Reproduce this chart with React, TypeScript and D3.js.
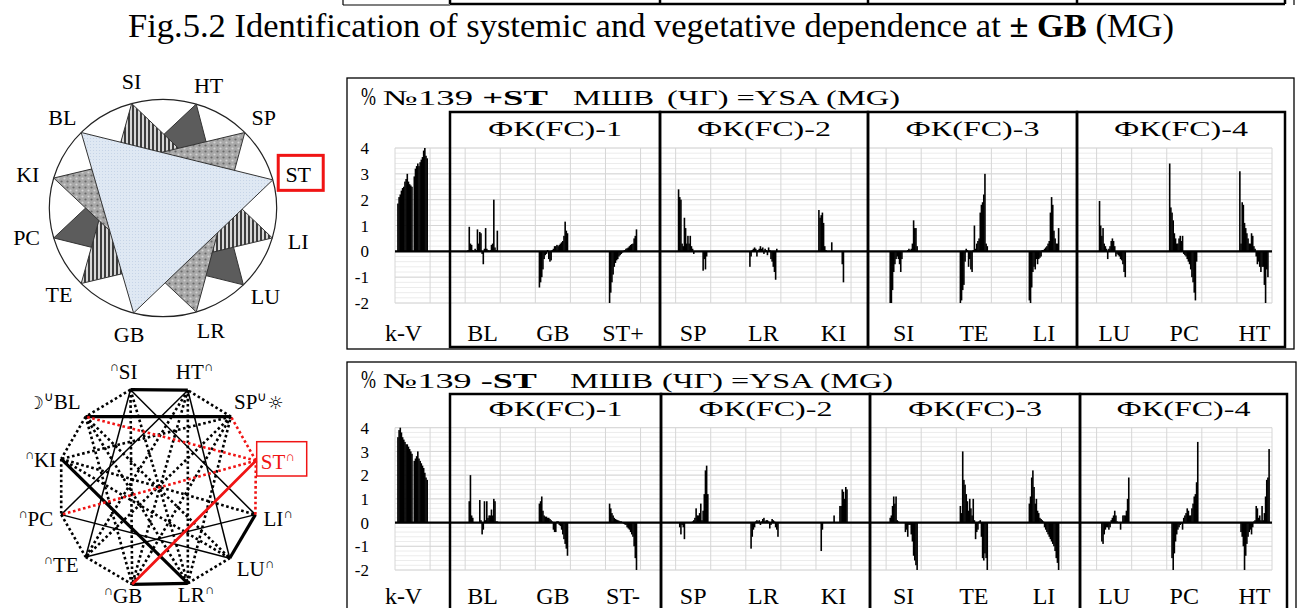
import React from "react";
import * as d3 from "d3";

const W = 1300;
const H = 608;
const FONT = "'Liberation Serif', 'Times New Roman', serif";

// ---------- bar chart data ----------
const plusCategories = ["k-V", "BL", "GB", "ST+", "SP", "LR", "KI", "SI", "TE", "LI", "LU", "PC", "HT"];
const minusCategories = ["k-V", "BL", "GB", "ST-", "SP", "LR", "KI", "SI", "TE", "LI", "LU", "PC", "HT"];
const yTicks = [4, 3, 2, 1, 0, -1, -2];
const fcNames = ["ФК(FC)-1", "ФК(FC)-2", "ФК(FC)-3", "ФК(FC)-4"];

// +ST series, one array per group (27 readings each)
const plusKV = [0, 1.85, 2.1, 2.2, 2.35, 2.45, 2.5, 2.7, 2.8, 3.0, 2.7, 2.6, 2.55, 2.5, 0, 2.9, 3.2, 3.3, 3.4, 3.3, 3.45, 3.55, 3.65, 3.9, 4.0, 3.7, 3.6];
const plusBL = [0, 0.05, 0.95, 0.3, 0.25, 0.05, 0, 0.1, 0.05, 0.85, 0.3, 0.75, 0.7, -0.1, -0.5, 0.1, 0.9, 0.1, 0.05, 0, 0.05, 0.25, 0.3, 2.0, 0.15, 0.05, 0.8];
const plusGB = [0, 0, -1.4, -1.2, -1.0, -0.7, -0.3, -0.15, -0.1, 0.05, -0.3, -0.4, -0.35, 0.05, 0.1, 0.2, 0.2, 0.25, 0.2, 0.25, 0.3, 0.35, 0.4, 0.6, 1.15, 0.8, 0.7];
const plusST = [0, 0, -2.0, -1.6, -1.2, -0.9, -0.6, -0.45, -0.35, -0.3, -0.2, -0.15, -0.1, -0.05, 0.03, 0.05, 0.1, 0.12, 0.15, 0.2, 0.25, 0.28, 0.3, 0.5, 0.6, 0.85, 0];
const plusSP = [0, 2.4, 2.1, 2.0, 0.3, 0.2, 1.3, 0.9, 0.3, 0.6, 0.3, 0.6, 0.2, 0.1, -0.1, 0, 0, 0, 0, 0, 0, 0, -0.75, -0.3, -0.7, -0.2, 0];
const plusLR = [0, 0, -0.6, -0.2, 0.05, 0.1, 0.15, 0.1, -0.2, 0.05, 0.1, 0.2, 0.1, 0.15, -0.1, 0.1, 0.05, -0.15, 0.15, 0.05, -0.3, -0.4, -0.6, -0.8, -1.1, 0.1, 0];
const plusKI = [0, 1.6, 1.3, 1.4, 1.5, 1.1, 0.2, 0.05, 0, 0, 0, 0, 0.35, 0, 0, 0, 0, 0, 0, 0, 0, -0.5, -1.2, 0, 0, 0, 0];
const plusSI = [0, 0, -2.0, -2.0, -1.5, -0.8, -0.5, -0.3, -0.2, -0.3, -0.5, -0.8, -0.3, 0, 0, 0, 0, 0.05, 0.1, 0.05, 0.1, 0.3, 1.2, 0.9, 0.9, 0.2, 0];
const plusTE = [0, 0, -2.0, -1.9, -1.5, -1.3, -0.4, 0.1, 0.05, -0.6, -0.3, -0.7, -0.8, 0.05, 1.0, 0.1, 0.3, 0.4, 0.5, 1.5, 1.8, 1.9, 2.2, 3.0, 0.3, 0.2, 0];
const plusLI = [0, -1.9, -2.0, -1.4, -0.8, -0.6, -0.7, -0.3, -0.5, -0.3, -0.25, -0.2, 0.05, 0.05, 0.1, 0.15, 0.2, 0.3, 0.4, 1.5, 2.1, 1.8, 0.8, 0.5, 0.3, 0.3, 0.9];
const plusLU = [0, 1.95, 1.0, 0.6, 0.9, 0.3, 0.2, 0.1, -0.3, 0.1, 0.2, 0.4, 0.5, 0.4, 0.2, -0.2, -0.1, -0.15, -0.2, -0.3, -0.35, -0.5, -0.8, -1.0, 0, 0, 0];
const plusPC = [0, 3.4, 1.7, 1.5, 1.2, 0.7, 0.5, 0.3, 0.3, 0.5, 0.6, 0.4, 0.6, -0.1, -0.15, -0.2, -0.3, -0.4, -0.5, -0.7, -1.0, -1.2, -1.6, -1.9, -0.4, 0, 0];
const plusHT = [0, 3.1, 0.3, 1.9, 1.8, 1.1, 0.9, 0.7, 0.5, 0.3, 0.3, 0.7, 0.6, 0.2, 0.1, -0.2, -0.5, -0.4, -0.6, -0.8, -0.6, -0.6, -1.3, -2.0, -0.7, -1.0, 0];

// -ST series
const minusKV = [0, 3.6, 3.9, 4.0, 3.8, 3.6, 3.5, 3.4, 3.3, 3.3, 3.2, 3.1, 3.0, 2.9, 0, 2.6, 2.7, 2.8, 3.0, 2.7, 2.6, 2.5, 2.4, 2.3, 2.1, 1.9, 1.8];
const minusBL = [0, 0, 0.9, 2.0, 0.3, 0.2, 0, 0, 0, 0, 0, 0.95, 0.1, -0.5, -0.3, 0.9, 0.1, 0.9, 0.2, 0.3, 0.3, 0.55, 0.3, 1.0, 0.9, 0.05, 0.05];
const minusGB = [0, 0, 0.8, 0.9, 1.1, 0.5, 0.3, 0.25, 0.25, 0.2, 0.2, 0.15, 0.1, 0.05, -0.3, -0.4, -0.4, 0.05, 0.05, -0.1, -0.15, -0.3, -0.5, -0.7, -0.9, -1.1, -1.4];
const minusST = [0, 0, 0.8, 0.6, 0.4, 0.3, 0.2, 0.15, 0.12, 0.1, 0.08, 0.05, 0.05, 0.02, -0.05, -0.08, -0.1, -0.2, -0.25, -0.3, -0.4, -0.5, -0.6, -1.0, -1.5, -2.0, 0];
const minusSP = [0, 0, -0.2, -0.5, -0.1, -0.2, -0.7, 0, 0, 0, 0, 0, 0, 0.05, 0.1, 0.2, 0.6, 0.3, 0.3, 0.4, 0.8, 0.1, 0.5, 1.2, 2.2, 2.4, 1.2];
const minusLR = [0, 0, 0, -1.1, -0.6, -0.3, -0.2, 0.05, 0.1, 0.05, 0.1, -0.1, 0.05, 0.15, 0.2, 0.05, 0.1, 0.1, 0.05, -0.25, -0.1, 0.15, 0.1, 0.05, -0.2, -0.3, -0.6];
const minusKI = [0, 0, 0, -1.2, -0.3, 0, 0, 0, 0, 0, 0, 0, 0, 0, 0.3, 0, 0, 0, 0, 0.7, 0.7, 1.4, 1.3, 1.0, 1.5, 1.4, 0];
const minusSI = [0, 0, 0.2, 0.3, 0.7, 1.1, 0.8, 1.1, 0.1, 0.05, 0, 0, 0, 0, 0, -0.4, -0.3, -0.6, -0.1, -0.1, -0.5, -0.8, -1.4, -1.6, -1.8, -2.0, 0];
const minusTE = [0, 0, 0.7, 0.4, 3.0, 1.8, 1.6, 1.2, 0.9, 0.5, 1.0, 0.6, 0.3, 1.0, 0.1, -0.7, -0.4, -0.3, 0.05, 0.1, -0.6, -1.5, -1.6, -1.3, -1.5, -2.0, 0];
const minusLI = [0, 0.8, 1.1, 1.9, 2.2, 1.5, 0.8, 1.0, 0.5, 0.4, 0.2, 0.15, 0.1, 0.05, -0.2, -0.3, -0.4, -0.5, -0.6, -0.7, -0.8, -0.9, -1.0, -1.2, -1.5, -1.7, -2.0];
const minusLU = [0, 0, 0, -0.8, -0.9, -0.5, -0.3, -0.2, -0.2, -0.3, -0.2, 0.1, 0.2, 0.3, 0.5, 0.3, 0.05, 0, 0, -0.3, 0, 0.3, 0.3, 0.3, 0.5, 1.0, 1.9];
const minusPC = [0, 0, 0, -1.5, -2.0, -1.3, -0.8, -0.5, -0.3, -0.2, -0.1, -0.05, -0.3, 0.2, 0.3, 0.4, 0.6, 0.5, 0.3, 0.3, 0.6, 0.8, 1.1, 1.2, 1.7, 3.4, 0];
const minusHT = [0, 0, -0.4, -0.6, -1.0, -2.0, -1.4, -0.9, -0.6, -0.4, -0.3, -0.5, -0.2, 0.05, 0.1, 0.7, 0.6, 0.2, 0.3, 0.1, 0.7, 0.1, 0.4, 1.1, 1.8, 1.9, 3.1];

const plusSeries = [plusKV, plusBL, plusGB, plusST, plusSP, plusLR, plusKI, plusSI, plusTE, plusLI, plusLU, plusPC, plusHT];
const minusSeries = [minusKV, minusBL, minusGB, minusST, minusSP, minusLR, minusKI, minusSI, minusTE, minusLI, minusLU, minusPC, minusHT];

// ---------- meridian wheel / graph ----------
const meridians = ["ST", "SP", "HT", "SI", "BL", "KI", "PC", "TE", "GB", "LR", "LU", "LI"];
const nodeAngles = [15, 44, 73, 106, 136, 164, 196, 224, 255, 287, 315, 344];
const wheelLabelAngles = [15, 44, 71, 103, 136, 165, 193, 222, 256, 290, 317, 345];

const triads = [
  { nodes: [2, 6, 10], fill: "#5c5c5c" },
  { nodes: [3, 7, 11], fill: "url(#stripes)" },
  { nodes: [1, 5, 9], fill: "url(#speckle)" },
  { nodes: [4, 0, 8], fill: "url(#bluedots)" },
];

type EdgeStyle = "dot" | "rdot" | "thin" | "thick" | "red";
const graphEdges: [number, number, EdgeStyle][] = [
  // rim
  [0, 1, "rdot"], [1, 2, "dot"], [2, 3, "thick"], [3, 4, "dot"], [4, 5, "dot"], [5, 6, "dot"],
  [6, 7, "dot"], [7, 8, "dot"], [8, 9, "thick"], [9, 10, "dot"], [10, 11, "thick"], [11, 0, "rdot"],
  // diameters
  [0, 6, "rdot"], [1, 7, "dot"], [2, 8, "dot"], [3, 9, "dot"], [4, 10, "dot"], [5, 11, "dot"],
  // triads
  [0, 4, "rdot"], [4, 8, "dot"], [8, 0, "red"],
  [1, 5, "dot"], [5, 9, "thick"], [9, 1, "dot"],
  [2, 6, "thin"], [6, 10, "thin"], [10, 2, "thin"],
  [3, 7, "thin"], [7, 11, "thin"], [11, 3, "thin"],
  // a few long chords
  [3, 8, "dot"], [9, 2, "dot"], [4, 9, "dot"], [8, 1, "dot"], [5, 10, "dot"], [2, 7, "dot"],
  // BL - SP
  [1, 4, "thick"],
];

// symbol decorations of the graph labels
const graphLabelParts: { pre?: string; preSup?: string; sup?: string; post?: string }[] = [
  { sup: "∩" },            // ST
  { sup: "∪", post: "☼" }, // SP
  { sup: "∩" },            // HT
  { preSup: "∩" },         // SI
  { pre: "☽", preSup: "∪" }, // BL
  { preSup: "∩" },         // KI
  { preSup: "∩" },         // PC
  { preSup: "∩" },         // TE
  { preSup: "∩" },         // GB
  { sup: "∩" },            // LR
  { sup: "∩" },            // LU
  { sup: "∩" },            // LI
];
// label placement relative to each node: dx, baseline dy, anchor
const graphLabelLayout: [number, number, "start" | "end"][] = [
  [5, 8, "start"], [3, -8, "start"], [-12, -11, "start"], [7, -11, "end"],
  [-5, -8, "end"], [-5, 8, "end"], [-8, 11, "end"], [-7, 15, "end"],
  [10, 19, "end"], [-10, 19, "start"], [7, 18, "start"], [8, 11, "start"],
];

const RED = "#f01414";
const SLOTS = 30;
const INTERVALS = 25;
const X0 = 395;
const X1 = 1272;

type Run = { x: number; len: number };
interface PanelCfg {
  outerTop: number; outerBottom: number; outerLeft: number; outerRight: number;
  boxTop: number; boxBottom: number; boxX: number[];
  plotTop: number; plotBottom: number;
  titleY: number; fcY: number; labelY: number;
  runs: Run[];
}

const topCfg: PanelCfg = {
  outerTop: 78, outerBottom: 349, outerLeft: 347, outerRight: 1294,
  boxTop: 112, boxBottom: 347, boxX: [450, 660, 868, 1077, 1285],
  plotTop: 148, plotBottom: 303,
  titleY: 105, fcY: 136, labelY: 341,
  runs: [{ x: 361, len: 15 }, { x: 383, len: 165 }, { x: 573, len: 81 }, { x: 667, len: 233 }],
};
const bottomCfg: PanelCfg = {
  outerTop: 362, outerBottom: 660, outerLeft: 347, outerRight: 1296,
  boxTop: 394, boxBottom: 650, boxX: [450, 661, 870, 1080, 1287],
  plotTop: 427.7, plotBottom: 570,
  titleY: 388, fcY: 416, labelY: 604,
  runs: [{ x: 361, len: 15 }, { x: 383, len: 154 }, { x: 570, len: 83 }, { x: 662, len: 231 }],
};

function Panel({ cfg, series, cats, sign }: { cfg: PanelCfg; series: number[][]; cats: string[]; sign: string }) {
  const x = d3.scaleLinear().domain([0, INTERVALS * SLOTS]).range([X0, X1]);
  const y = d3.scaleLinear().domain([-2, 4]).range([cfg.plotBottom, cfg.plotTop]);
  const minor = d3.range(-2, 4.0001, 0.2);
  const bars = series
    .flatMap((vals, g) => vals.map((v, i) => ({ slot: 2 * g * SLOTS + 1 + i, v })))
    .filter((d) => d.v !== 0);
  const y0 = y(0);
  const [r0, r1, r2, r3] = cfg.runs;
  return (
    <g fontFamily={FONT}>
      {minor.map((t, i) => (
        <line key={"m" + i} x1={X0} x2={X1} y1={y(t)} y2={y(t)} stroke="#ececec" strokeWidth={1} />
      ))}
      {yTicks.map((t) => (
        <line key={"h" + t} x1={X0} x2={X1} y1={y(t)} y2={y(t)} stroke="#d6d6d6" strokeWidth={1} />
      ))}
      {d3.range(INTERVALS + 1).map((k) => (
        <line key={"v" + k} x1={x(k * SLOTS)} x2={x(k * SLOTS)} y1={cfg.plotTop} y2={cfg.plotBottom} stroke="#d6d6d6" strokeWidth={1} />
      ))}
      {bars.map((d, i) => (
        <rect key={"b" + i} x={x(d.slot) - 0.2} y={Math.min(y(d.v), y0)} width={1.6} height={Math.abs(y(d.v) - y0)} fill="#000" />
      ))}
      <line x1={X0} x2={X1} y1={y0} y2={y0} stroke="#000" strokeWidth={2.2} />
      {fcNames.map((_, i) => (
        <rect key={"fc" + i} x={cfg.boxX[i]} y={cfg.boxTop} width={cfg.boxX[i + 1] - cfg.boxX[i]} height={cfg.boxBottom - cfg.boxTop} fill="none" stroke="#000" strokeWidth={2.5} />
      ))}
      <rect x={cfg.outerLeft} y={cfg.outerTop} width={cfg.outerRight - cfg.outerLeft} height={cfg.outerBottom - cfg.outerTop} fill="none" stroke="#000" strokeWidth={1.3} />
      {yTicks.map((t) => (
        <text key={"t" + t} x={369} y={y(t)} dy="0.36em" textAnchor="end" fontSize={17}>{t}</text>
      ))}
      {cats.map((c, g) => (
        <text key={"c" + g} x={x((2 * g + 0.5) * SLOTS) - (g === 0 ? 9 : 0)} y={cfg.labelY} textAnchor="middle" fontSize={24}>{c}</text>
      ))}
      {fcNames.map((n, i) => (
        <text key={"fn" + i} x={(cfg.boxX[i] + cfg.boxX[i + 1]) / 2 - 67} y={cfg.fcY} fontSize={20} textLength={134} lengthAdjust="spacingAndGlyphs">{n}</text>
      ))}
      <text x={r0.x} y={cfg.titleY} fontSize={25} textLength={r0.len} lengthAdjust="spacingAndGlyphs">%</text>
      <text x={r1.x} y={cfg.titleY} fontSize={21} textLength={r1.len} lengthAdjust="spacingAndGlyphs">
        {"№139 "}<tspan fontWeight="bold">{sign + "ST"}</tspan>
      </text>
      <text x={r2.x} y={cfg.titleY} fontSize={21} textLength={r2.len} lengthAdjust="spacingAndGlyphs">МШВ</text>
      <text x={r3.x} y={cfg.titleY} fontSize={21} textLength={r3.len} lengthAdjust="spacingAndGlyphs">(ЧГ) =YSA (MG)</text>
    </g>
  );
}

function Wheel() {
  const cx = 163, cy = 208, rx = 113.7, ry = 108.7;
  const rad = Math.PI / 180;
  const pts: [number, number][] = nodeAngles.map((a) => [cx + rx * Math.cos(a * rad), cy - ry * Math.sin(a * rad)]);
  const line = d3.line();
  const lrx = 140, lry = 130;
  return (
    <g fontFamily={FONT}>
      <ellipse cx={cx} cy={cy} rx={rx} ry={ry} fill="none" stroke="#222" strokeWidth={1.2} />
      {triads.map((t, i) => (
        <path key={i} d={line(t.nodes.map((n) => pts[n]))! + "Z"} fill={t.fill} stroke="#333" strokeWidth={1} />
      ))}
      {meridians.map((m, i) => {
        const a = wheelLabelAngles[i] * rad;
        const lx = cx + lrx * Math.cos(a);
        const ly = cy - lry * Math.sin(a);
        return (
          <g key={m}>
            <text x={lx} y={ly + 7.5} textAnchor="middle" fontSize={22}>{m}</text>
            {m === "ST" && (
              <rect x={lx - 20} y={ly - 19} width={45} height={35} fill="none" stroke={RED} strokeWidth={3} />
            )}
          </g>
        );
      })}
    </g>
  );
}

function Graph() {
  const cx = 158.3, cy = 486.8, r = 101;
  const rad = Math.PI / 180;
  const pts: [number, number][] = nodeAngles.map((a) => [cx + r * Math.cos(a * rad), cy - r * Math.sin(a * rad)]);
  const styleOf = (s: EdgeStyle) => {
    switch (s) {
      case "dot": return { stroke: "#000", strokeWidth: 2.6, strokeDasharray: "2.6 2.6" };
      case "rdot": return { stroke: RED, strokeWidth: 2.6, strokeDasharray: "2.6 2.6" };
      case "thin": return { stroke: "#000", strokeWidth: 1.5 };
      case "thick": return { stroke: "#000", strokeWidth: 3.2 };
      default: return { stroke: RED, strokeWidth: 2.8 };
    }
  };
  const order: EdgeStyle[] = ["dot", "thin", "thick", "rdot", "red"];
  const edges = order.flatMap((s) => graphEdges.filter((e) => e[2] === s));
  return (
    <g fontFamily={FONT}>
      {edges.map(([a, b, s], i) => (
        <line key={i} x1={pts[a][0]} y1={pts[a][1]} x2={pts[b][0]} y2={pts[b][1]} {...styleOf(s)} />
      ))}
      {meridians.map((m, i) => {
        const [dx, dy, anchor] = graphLabelLayout[i];
        const p = graphLabelParts[i];
        const fill = m === "ST" ? RED : "#000";
        return (
          <text key={m} x={pts[i][0] + dx} y={pts[i][1] + dy} textAnchor={anchor} fontSize={21} fill={fill}>
            {p.pre && <tspan fontFamily="'DejaVu Sans', sans-serif" fontSize={18}>{p.pre}</tspan>}
            {p.preSup && <tspan fontSize={13} dy={-8}>{p.preSup}</tspan>}
            <tspan dy={p.preSup ? 8 : 0}>{m}</tspan>
            {p.sup && <tspan fontSize={13} dy={-8}>{p.sup}</tspan>}
            {p.post && <tspan dy={8} fontFamily="'DejaVu Sans', sans-serif" fontSize={18}>{p.post}</tspan>}
          </text>
        );
      })}
      <rect x={256.7} y={441.7} width={50} height={34.3} fill="none" stroke={RED} strokeWidth={1.5} />
    </g>
  );
}

export default function App() {
  const topStrip = [450, 660, 868, 1077, 1285];
  return (
    <svg width={W} height={H} viewBox={`0 0 ${W} ${H}`} style={{ position: "fixed", left: 0, top: 0, background: "#fff" }}>
      <defs>
        <pattern id="stripes" width={4} height={4} patternUnits="userSpaceOnUse">
          <rect width={4} height={4} fill="#d6d6d6" />
          <rect width={2} height={4} fill="#3c3c3c" />
        </pattern>
        <pattern id="speckle" width={6} height={6} patternUnits="userSpaceOnUse">
          <rect width={6} height={6} fill="#a8a8a8" />
          <circle cx={1.5} cy={1.5} r={1.1} fill="#6a6a6a" />
          <circle cx={4.5} cy={4.5} r={1.1} fill="#d2d2d2" />
        </pattern>
        <pattern id="bluedots" width={3} height={3} patternUnits="userSpaceOnUse">
          <rect width={3} height={3} fill="#dfe8f3" />
          <rect width={1} height={1} fill="#c6d4e7" />
        </pattern>
      </defs>
      <rect width={W} height={H} fill="#fff" />

      {/* end of the preceding panel */}
      <line x1={343} x2={343} y1={0} y2={5} stroke="#000" strokeWidth={1.2} />
      <line x1={343} x2={450} y1={5} y2={5} stroke="#000" strokeWidth={1.2} />
      <line x1={450} x2={1285} y1={4} y2={4} stroke="#000" strokeWidth={2.5} />
      {topStrip.map((xv) => (
        <line key={xv} x1={xv} x2={xv} y1={0} y2={4} stroke="#000" strokeWidth={2.5} />
      ))}
      <line x1={1294} x2={1294} y1={0} y2={5} stroke="#000" strokeWidth={1.2} />

      <text x={651} y={37} textAnchor="middle" fontFamily={FONT} fontSize={34} textLength={1046} lengthAdjust="spacingAndGlyphs">
        {"Fig.5.2 Identification of systemic and vegetative dependence at "}
        <tspan fontWeight="bold">± GB</tspan>
        {" (MG)"}
      </text>

      <Wheel />
      <Graph />
      <Panel cfg={topCfg} series={plusSeries} cats={plusCategories} sign="+" />
      <Panel cfg={bottomCfg} series={minusSeries} cats={minusCategories} sign="-" />
    </svg>
  );
}
